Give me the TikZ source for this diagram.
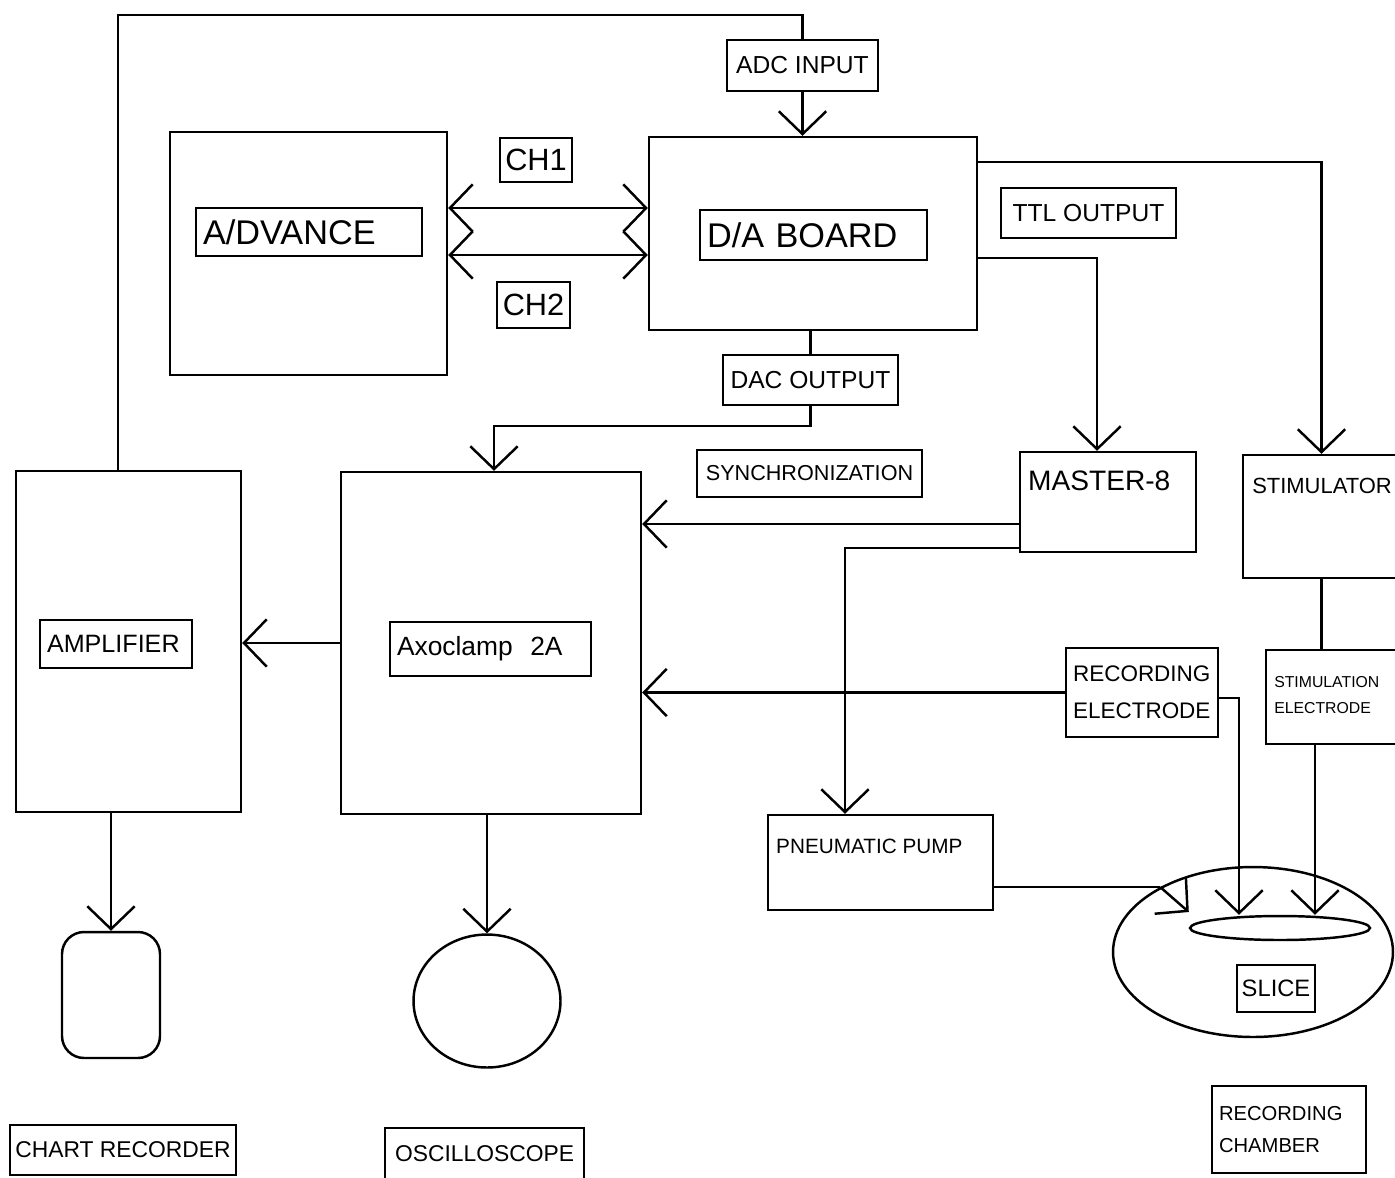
\documentclass[tikz,border=0pt]{standalone}
\usepackage{fontspec}
\setmainfont{Liberation Sans}
\usetikzlibrary{positioning, arrows.meta, shapes.geometric, calc}

\newcommand{\fsz}[1]{\fontsize{#1}{#1}\selectfont}

\begin{document}
\begin{tikzpicture}[
    x=0.02cm, y=-0.02cm,
    >={Straight Barb[length=13pt, width=27pt]},
    line width=1.4pt,
    unit/.style={draw, inner sep=0pt},
    tag/.style={draw, inner sep=0pt, align=left},
    note/.style={anchor=north west, inner sep=0pt, align=left}
]
\useasboundingbox (0,0) rectangle (1395,1177);

%---------------- Computer and interface board ----------------
\node[unit, minimum width=5.54cm, minimum height=4.86cm] (adv) at (308.5,253.5) {};
\node[tag, minimum width=4.52cm, minimum height=0.96cm, text width=4.24cm,
      font=\fsz{19.5}] (advlbl) at (309,232) {A/DVANCE};

\node[unit, minimum width=6.56cm, minimum height=3.86cm] (da) at (813,233.5) {};
\node[tag, minimum width=4.54cm, minimum height=1.0cm, text width=4.26cm,
      font=\fsz{19.5}] (dalbl) at (813.5,235) {D/A BOARD};

\node[tag, minimum width=3.02cm, minimum height=1.02cm, font=\fsz{14}] (adc) at (802.5,65.5) {ADC INPUT};
\node[tag, minimum width=1.44cm, minimum height=0.88cm, font=\fsz{17.5}] (ch1) at (536,160) {CH1};
\node[tag, minimum width=1.46cm, minimum height=0.92cm, font=\fsz{17.5}] (ch2) at (533.5,305) {CH2};
\node[tag, minimum width=3.5cm, minimum height=1.0cm, font=\fsz{14}] (ttl) at (1088.5,213) {TTL OUTPUT};
\node[tag, minimum width=3.5cm, minimum height=1.0cm, font=\fsz{14}] (dac) at (810.5,380) {DAC OUTPUT};
\node[tag, minimum width=4.5cm, minimum height=0.94cm, font=\fsz{12.3}] (sync) at (809.5,473.5) {SYNCHRONIZATION};

%---------------- Stimulation side ----------------
\node[unit, minimum width=3.52cm, minimum height=2.0cm] (m8) at (1108,502) {};
\node[note, font=\fsz{16}] (m8txt) at (1027,470) {MASTER-8};

\node[unit, minimum width=3.14cm, minimum height=2.46cm] (stim) at (1321.5,516.5) {};
\node[note, font=\fsz{12.5}] (stimtxt) at (1251,477) {STIMULATOR};

\node[unit, minimum width=2.68cm, minimum height=1.88cm] (stel) at (1333,697) {};
\node[note, font=\fontsize{9}{15}\selectfont] (steltxt) at (1273,675) {STIMULATION\\ELECTRODE};

\node[tag, minimum width=3.04cm, minimum height=1.78cm, text width=2.76cm,
      font=\fontsize{12.8}{21}\selectfont] (recel) at (1142,692.5) {RECORDING\\ELECTRODE};

\node[unit, minimum width=4.5cm, minimum height=1.9cm] (pump) at (880.5,862.5) {};
\node[note, font=\fsz{11.8}] (pumptxt) at (775,838) {PNEUMATIC PUMP};

%---------------- Recording side ----------------
\node[unit, minimum width=4.5cm, minimum height=6.82cm] (amp) at (128.5,641.5) {};
\node[tag, minimum width=3.04cm, minimum height=0.96cm, text width=2.76cm,
      font=\fsz{14.3}] (amplbl) at (116,644) {AMPLIFIER};

\node[unit, minimum width=6.0cm, minimum height=6.84cm] (axo) at (491,643) {};
\node[tag, minimum width=4.02cm, minimum height=1.08cm, text width=3.74cm,
      font=\fsz{15}] (axolbl) at (490.5,649) {Axoclamp\ \ 2A};

\node[unit, rounded corners=0.44cm, minimum width=1.96cm, minimum height=2.52cm] (chart) at (111,995) {};
\node[tag, minimum width=4.52cm, minimum height=1.0cm, font=\fsz{13}] (chartlbl) at (123,1150) {CHART RECORDER};

\node[unit, ellipse, minimum width=2.94cm, minimum height=2.66cm] (scope) at (487,1001) {};
\node[tag, minimum width=3.98cm, minimum height=1.04cm, font=\fsz{13}] (scopelbl) at (484.5,1154) {OSCILLOSCOPE};

%---------------- Recording chamber ----------------
\node[unit, ellipse, minimum width=5.6cm, minimum height=3.4cm] (chamber) at (1253,952) {};
\node[unit, ellipse, minimum width=3.6cm, minimum height=0.48cm] (slice) at (1280,928) {};
\node[tag, minimum width=1.56cm, minimum height=0.94cm, font=\fsz{13.5}] (slicelbl) at (1276,988.5) {SLICE};
\node[tag, minimum width=3.08cm, minimum height=1.74cm, text width=2.8cm,
      font=\fontsize{11.5}{18.7}\selectfont] (chamberlbl) at (1289,1129.5) {RECORDING\\CHAMBER};

%---------------- Connections ----------------
\coordinate (ret) at (118,15);
\draw[->] (adc.south) -- (adc.south |- da.north);
\draw (adc.north) |- (ret) -- (ret |- amp.north);

\coordinate (c1) at ([yshift=0.51cm]da.west);
\coordinate (c2) at ([yshift=-0.43cm]da.west);
\draw[<->] (c1) -- (c1 -| adv.east);
\draw[<->] (c2) -- (c2 -| adv.east);

\draw (dac.north |- da.south) -- (dac.north);
\draw[->] (dac.south) -- ++(0,20) -| ([xshift=0.06cm]axo.north);

\coordinate (d1) at ([yshift=1.43cm]da.east);
\coordinate (d2) at ([yshift=-0.49cm]da.east);
\draw[->] (d1) -| (stim.north);
\draw[->] (d2) -| ([xshift=-0.22cm]m8.north);

\coordinate (m1) at ([yshift=-0.44cm]m8.west);
\coordinate (m2) at ([yshift=-0.92cm]m8.west);
\draw[->] (m1) -- (m1 -| axo.east);
\draw[->] (m2) -| ([xshift=-0.71cm]pump.north);

\draw (stim.south) -- (stim.south |- stel.north);
\coordinate (s1) at ([xshift=-0.36cm]stel.south);
\draw[->] (s1) -- (s1 |- slice.north);

\draw[->] (recel.west) -- (recel.west -| axo.east);
\coordinate (r1) at ([yshift=-0.11cm]recel.east);
\draw[->] (r1) -| ([xshift=-0.82cm]slice.north);

\draw (chamber.145 -| pump.east) -- (chamber.145);
\draw[->] (chamber.145) -- ([yshift=0.32cm]slice.west);

\draw[->] (axo.west) -- (axo.west -| amp.east);
\draw[->] (amp.south -| chart.north) -- (chart.north);
\draw[->] (axo.south -| scope.north) -- (scope.north);

\end{tikzpicture}
\end{document}
